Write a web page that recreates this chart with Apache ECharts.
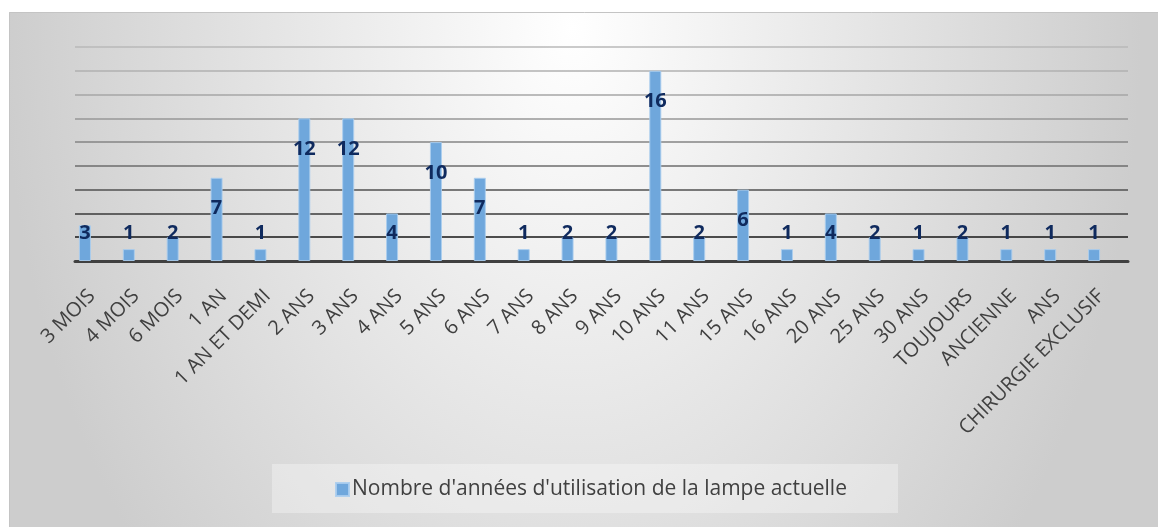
<!DOCTYPE html>
<html>
<head>
<meta charset="utf-8">
<title>Nombre d'années d'utilisation de la lampe actuelle</title>
<script src="https://cdn.jsdelivr.net/npm/echarts@6/dist/echarts.min.js"></script>
<style>
  html, body { margin: 0; padding: 0; background: #ffffff; }
  #chart { width: 1158px; height: 527px; }
</style>
</head>
<body>
<div id="chart"></div>
<script>
// Durée d'utilisation déclarée pour la lampe actuelle
const categories = ['3 MOIS', '4 MOIS', '6 MOIS', '1 AN', '1 AN ET DEMI', '2 ANS', '3 ANS', '4 ANS',
  '5 ANS', '6 ANS', '7 ANS', '8 ANS', '9 ANS', '10 ANS', '11 ANS', '15 ANS', '16 ANS', '20 ANS',
  '25 ANS', '30 ANS', 'TOUJOURS', 'ANCIENNE', 'ANS', 'CHIRURGIE EXCLUSIF'];
const counts = [3, 1, 2, 7, 1, 12, 12, 4, 10, 7, 1, 2, 2, 16, 2, 6, 1, 4, 2, 1, 2, 1, 1, 1];
const seriesName = "Nombre d'années d'utilisation de la lampe actuelle";
const yTicks = { min: 0, max: 18, step: 2 };

const FONT = '"Open Sans", "Noto Sans", sans-serif';
const BAR_COLOR = '#6fa7dc';

// gridlines fade from dark near the baseline to light at the top
const gridColors = ['#404040', '#161616', '#3a3a3a', '#505050', '#6c6c6c', '#858585',
  '#979797', '#a6a6a6', '#b0b0b0', '#b8b8b8'];

// tall bars carry their value inside the top, short bars just above the baseline
const barData = counts.map(v => ({
  value: v,
  label: v > 5
    ? { position: 'insideTop', distance: 21 }
    : { position: 'insideBottom', distance: 18 }
}));

const chart = echarts.init(document.getElementById('chart'), null, { renderer: 'canvas' });

// panel background: soft elliptical light from the top, grey towards the sides
const panelW = 1149, panelH = 515, stretchY = 1.42;
const panelFill = new echarts.graphic.RadialGradient(0.49, 0.03, 1.57, [
  { offset: 0, color: '#ffffff' },
  { offset: 1, color: '#cdcdcd' }
]);

chart.setOption({
  animation: false,
  textStyle: { fontFamily: FONT },
  graphic: [
    {
      type: 'rect', z: -20, silent: true,
      x: 9, y: 12, scaleY: stretchY,
      shape: { x: 0, y: 0, width: panelW, height: panelH / stretchY },
      style: { fill: panelFill }
    },
    {
      type: 'rect', z: -19, silent: true,
      shape: { x: 9.5, y: 12.5, width: panelW + 10, height: panelH + 10 },
      style: { fill: null, stroke: '#c4c4c4', lineWidth: 1 }
    },
    {
      type: 'rect', z: -18, silent: true,
      shape: { x: 272, y: 464, width: 626, height: 49 },
      style: { fill: 'rgba(255,255,255,0.32)' }
    }
  ],
  grid: { left: 75, right: 30, top: 47, bottom: 266, containLabel: false },
  legend: {
    data: [seriesName],
    left: 335, top: 476,
    icon: 'rect', itemWidth: 13, itemHeight: 13, itemGap: 6,
    padding: 0,
    textStyle: { fontSize: 21, color: '#404040', fontFamily: FONT, lineHeight: 27, padding: [0, 0, 0, -2] }
  },
  xAxis: {
    type: 'category',
    data: categories,
    axisTick: { show: false },
    axisLine: { lineStyle: { color: '#404040', width: 3 } },
    axisLabel: {
      interval: 0, rotate: 45, margin: 27,
      padding: [0, 7, 0, 0],
      fontSize: 20, color: '#404040', fontFamily: FONT
    }
  },
  yAxis: {
    type: 'value',
    min: yTicks.min, max: yTicks.max, interval: yTicks.step,
    axisLabel: { show: false },
    axisLine: { show: false },
    axisTick: { show: false },
    splitLine: { lineStyle: { color: gridColors, width: 1.5 } }
  },
  series: [
    {
      name: seriesName,
      type: 'bar',
      data: barData,
      barWidth: 12,
      barGap: '100%',
      itemStyle: { color: BAR_COLOR, borderColor: 'rgba(170,205,238,0.9)', borderWidth: 1 },
      label: {
        show: true,
        fontSize: 20, fontWeight: 'bold', color: '#0f2a5e', fontFamily: FONT
      }
    },
    {
      // second slot of each cluster, left empty
      name: 'réserve',
      type: 'bar',
      data: [],
      barWidth: 12,
      barGap: '100%'
    }
  ]
});
</script>
</body>
</html>
